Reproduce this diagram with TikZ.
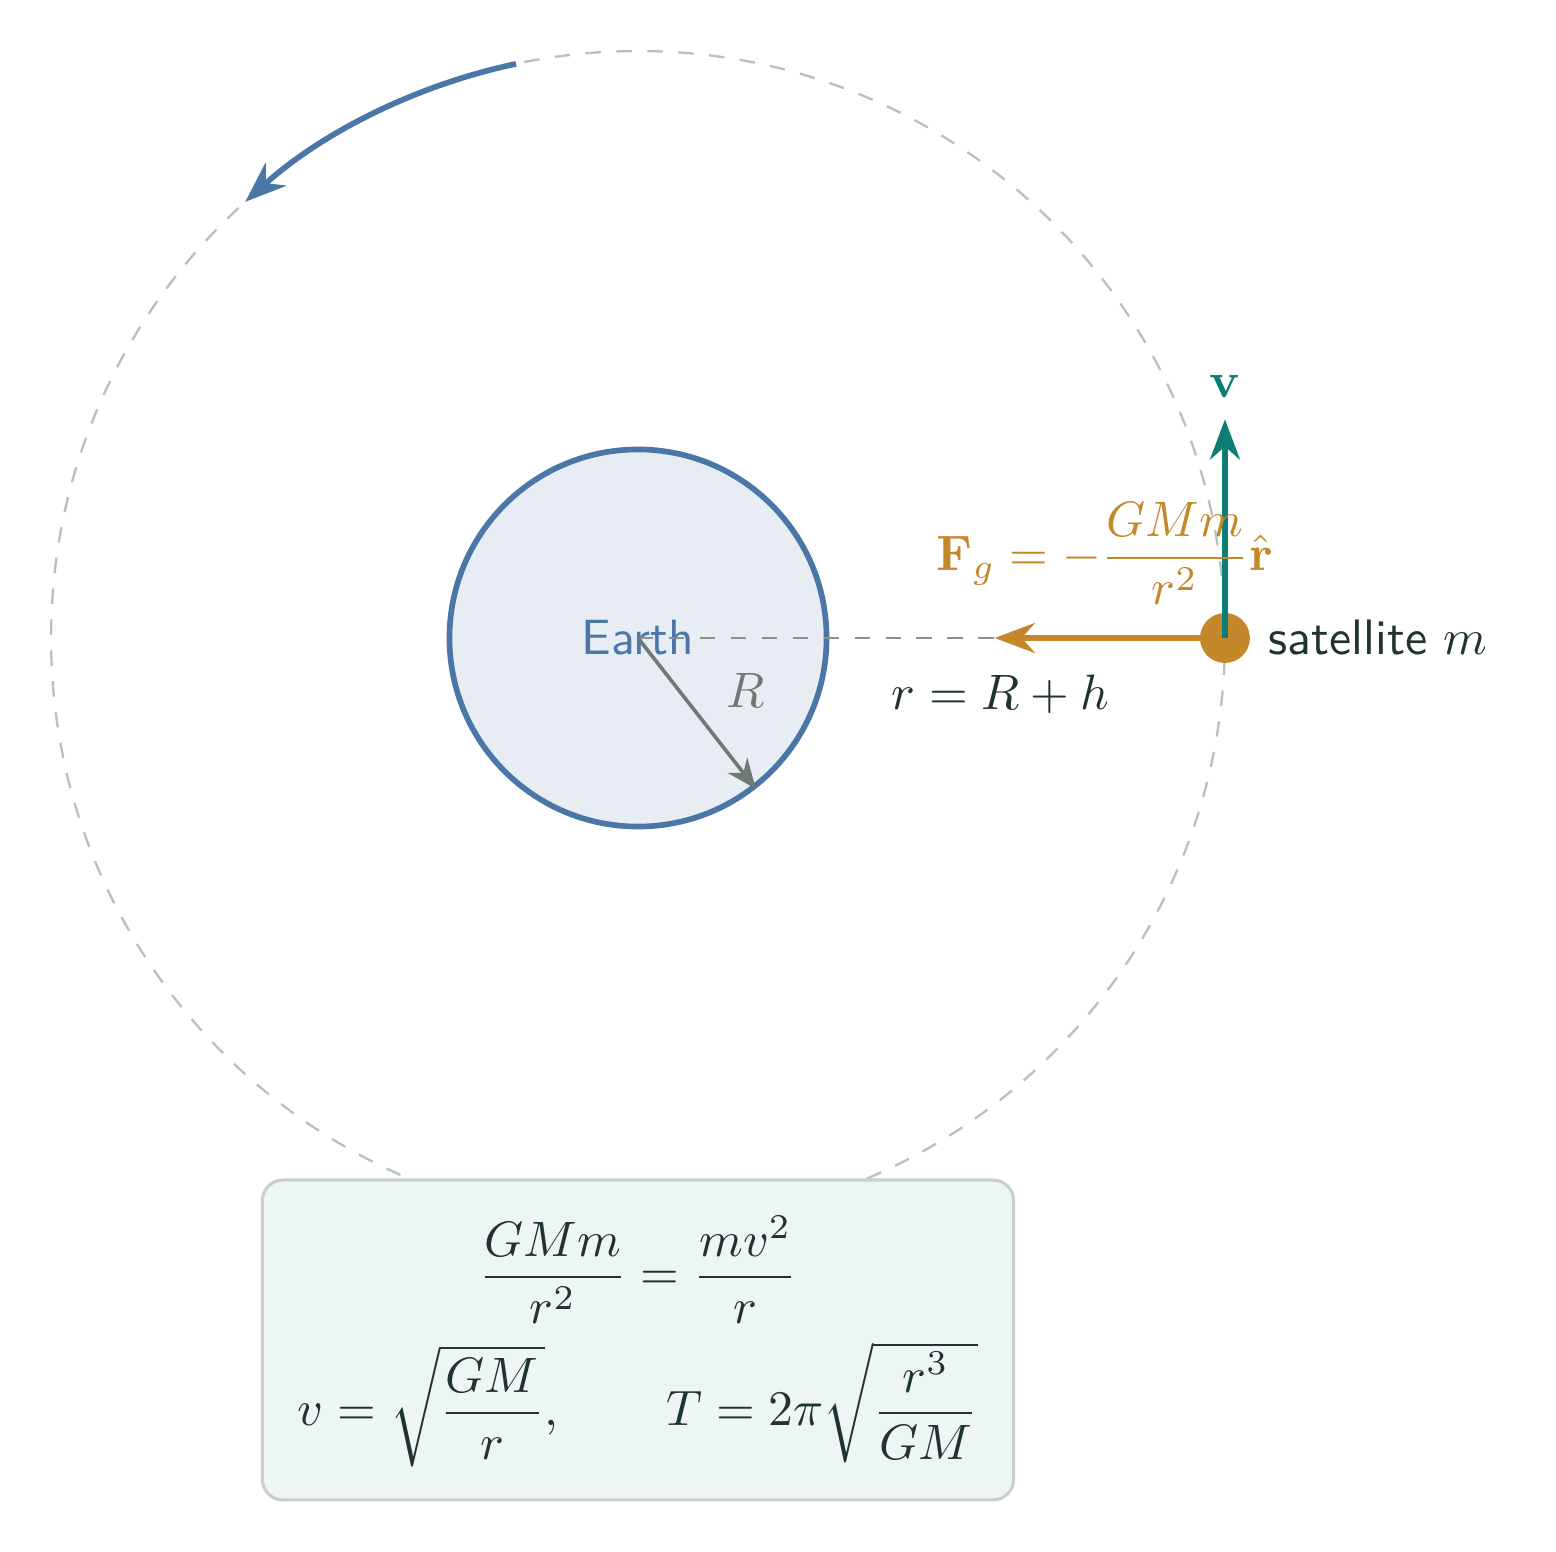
\documentclass[tikz,border=0pt]{standalone}
\usepackage{amsmath}
\usetikzlibrary{arrows.meta}
\definecolor{earthblue}{HTML}{4A76A8}
\definecolor{earthfill}{HTML}{E8ECF3}
\definecolor{gold}{HTML}{C4882A}
\definecolor{tealv}{HTML}{0C7E76}
\definecolor{rgray}{HTML}{6F7A75}
\definecolor{ink}{HTML}{1F3330}
\definecolor{orbitgray}{HTML}{BBBFBF}
\definecolor{midgray}{HTML}{8A9290}
\definecolor{boxfill}{HTML}{EEF6F5}
\definecolor{boxline}{HTML}{C9D1D0}
\tikzset{
  orbitline/.style={draw=orbitgray, dashed, line width=0.45pt},
  radline/.style={draw=midgray, dashed, line width=0.45pt},
  vecarrow/.style={-{Stealth[length=7.8pt,width=5.8pt]}, line width=1.1pt},
  lbl/.style={inner sep=0pt, anchor=base, scale=0.965},
}
\begin{document}
\begin{tikzpicture}
\useasboundingbox (-4.348,-6.228) rectangle (6.256,4.348);
% orbit
\draw[orbitline] (0,0) circle (4);
\coordinate (arcstart) at (102:4);
\draw[earthblue, line width=1.1pt, -{Stealth[length=8pt,width=6pt]}] (arcstart) arc (102:132:4);
% Earth
\node[circle, draw=earthblue, fill=earthfill, line width=1.1pt, minimum size=2.57cm, inner sep=0pt] (earth) at (0,0) {};
\node[text=earthblue, font=\sffamily, scale=0.96] (earthlabel) at (0,0) {Earth};
% satellite
\node[circle, fill=gold, minimum size=0.34cm, inner sep=0pt] (sat) at (4,0) {};
\coordinate (ftip) at (2.43,0);
\coordinate (vtip) at (4,1.49);
\draw[radline] (earth.center) -- (ftip);
\draw[gold, vecarrow] (sat.center) -- (ftip);
\draw[tealv, vecarrow] (sat.center) -- (vtip);
\draw[rgray, line width=0.7pt, -{Stealth[length=5.8pt,width=4.8pt]}] (earth.center) -- (earth.-52);
% labels
\node[lbl, text=tealv] (vlabel) at (4,1.642) {$\mathbf{v}$};
\node[lbl, text=gold] (flabel) at (3.18,0.459) {$\mathbf{F}_g = -\dfrac{GMm}{r^2}\hat{\mathbf{r}}$};
\node[lbl, text=ink] (rlabel) at (2.47,-0.49) {$r = R + h$};
\node[lbl, text=rgray] (Rlabel) at (0.73,-0.477) {$R$};
\node[right, text=ink, font=\sffamily, scale=0.965] (satlabel) at (sat.east) {satellite $m$};
% formula box
\node[draw=boxline, fill=boxfill, rounded corners=4pt, line width=0.6pt, minimum width=5.12cm, minimum height=2.18cm, inner sep=0pt] (box) at (0,-4.784) {};
\node[lbl, text=ink] (eqone) at (0,-4.442) {$\dfrac{GMm}{r^2} = \dfrac{mv^2}{r}$};
\node[lbl, text=ink] (eqtwo) at (0,-5.369) {$v = \sqrt{\dfrac{GM}{r}},\qquad T = 2\pi\sqrt{\dfrac{r^3}{GM}}$};
\end{tikzpicture}
\end{document}
